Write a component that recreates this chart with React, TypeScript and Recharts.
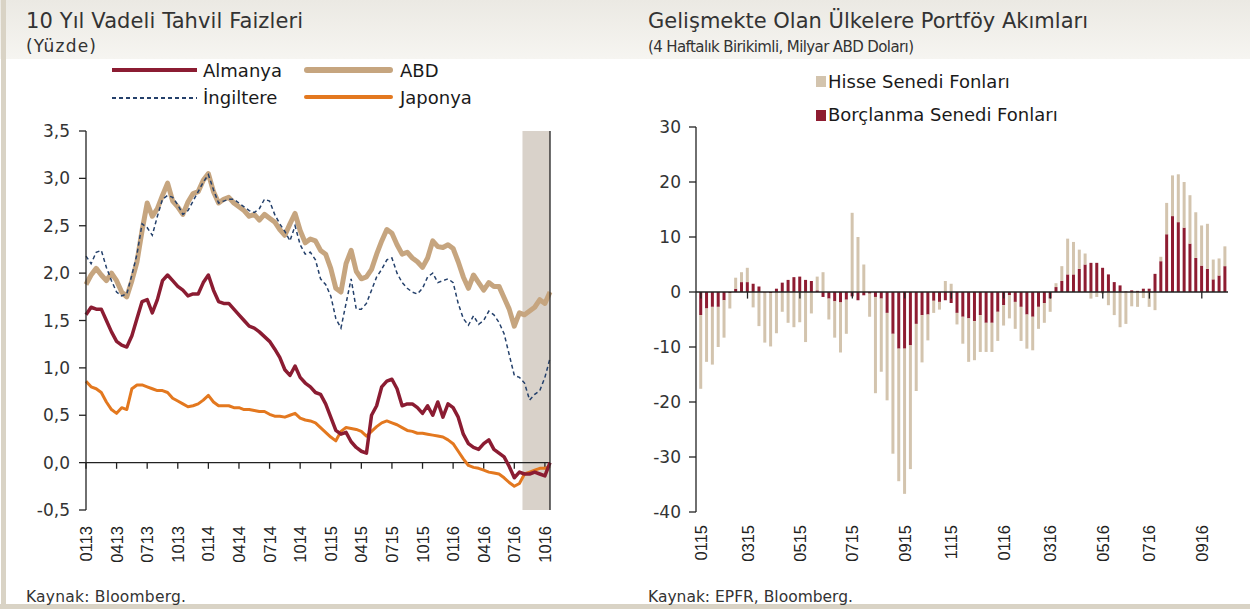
import React from 'react';
import { LineChart, Line, XAxis, YAxis, ReferenceLine, ReferenceArea, BarChart, Bar } from 'recharts';

// ---------- Left chart: 10 year bond yields (semi-monthly readings, Jan 2013 - Nov 2016)
const monthTicks = [0, 3, 6, 9, 12, 15, 18, 21, 24, 27, 30, 33, 36, 39, 42, 45];
const monthTickLabels = ['0113', '0413', '0713', '1013', '0114', '0414', '0714', '1014', '0115', '0415', '0715', '1015', '0116', '0416', '0716', '1016'];
const yieldTicks = [-0.5, 0, 0.5, 1, 1.5, 2, 2.5, 3, 3.5];

const almanya = [1.56, 1.64, 1.62, 1.62, 1.50, 1.38, 1.28, 1.24, 1.22, 1.34,
  1.52, 1.70, 1.72, 1.58, 1.72, 1.92, 1.98, 1.92, 1.86, 1.82,
  1.76, 1.78, 1.78, 1.90, 1.98, 1.82, 1.70, 1.68, 1.68, 1.62,
  1.56, 1.50, 1.44, 1.42, 1.38, 1.33, 1.28, 1.20, 1.11, 0.98,
  0.92, 1.02, 0.90, 0.84, 0.80, 0.74, 0.72, 0.62, 0.48, 0.34,
  0.30, 0.32, 0.22, 0.16, 0.12, 0.10, 0.50, 0.60, 0.80, 0.86,
  0.88, 0.78, 0.60, 0.62, 0.62, 0.58, 0.52, 0.60, 0.50, 0.64,
  0.48, 0.62, 0.58, 0.48, 0.30, 0.20, 0.16, 0.14, 0.20, 0.24,
  0.14, 0.10, 0.06, -0.04, -0.16, -0.10, -0.12, -0.12, -0.10, -0.12,
  -0.14, 0.00];
const abd = [1.88, 1.98, 2.05, 1.98, 1.92, 2.00, 1.92, 1.80, 1.75, 1.92,
  2.12, 2.45, 2.74, 2.60, 2.68, 2.82, 2.95, 2.76, 2.70, 2.62,
  2.75, 2.84, 2.86, 2.98, 3.05, 2.86, 2.74, 2.78, 2.80, 2.74,
  2.70, 2.66, 2.60, 2.62, 2.56, 2.62, 2.58, 2.54, 2.46, 2.40,
  2.52, 2.63, 2.45, 2.32, 2.36, 2.34, 2.24, 2.20, 2.05, 1.84,
  1.80, 2.10, 2.24, 2.02, 1.94, 1.96, 2.04, 2.20, 2.34, 2.46,
  2.42, 2.30, 2.20, 2.22, 2.16, 2.12, 2.06, 2.16, 2.34, 2.28,
  2.27, 2.30, 2.26, 2.12, 1.96, 1.84, 1.98, 1.90, 1.82, 1.90,
  1.86, 1.86, 1.74, 1.62, 1.44, 1.58, 1.56, 1.60, 1.64, 1.72,
  1.68, 1.80];
const ingiltere = [2.18, 2.10, 2.22, 2.24, 2.06, 1.92, 1.80, 1.76, 1.78, 1.98,
  2.20, 2.52, 2.48, 2.40, 2.60, 2.78, 2.82, 2.80, 2.72, 2.62,
  2.66, 2.76, 2.86, 2.96, 3.04, 2.88, 2.74, 2.76, 2.78, 2.78,
  2.74, 2.70, 2.66, 2.64, 2.68, 2.78, 2.76, 2.62, 2.52, 2.44,
  2.34, 2.50, 2.30, 2.20, 2.22, 2.14, 1.94, 1.88, 1.76, 1.52,
  1.42, 1.68, 1.94, 1.62, 1.62, 1.68, 1.82, 1.96, 2.04, 2.14,
  2.16, 2.00, 1.90, 1.84, 1.80, 1.78, 1.84, 1.96, 2.00, 1.90,
  1.92, 1.94, 1.90, 1.68, 1.52, 1.45, 1.55, 1.46, 1.50, 1.60,
  1.56, 1.48, 1.36, 1.14, 0.92, 0.90, 0.84, 0.66, 0.72, 0.76,
  0.90, 1.10];
const japonya = [0.86, 0.80, 0.78, 0.74, 0.64, 0.56, 0.52, 0.58, 0.56, 0.78,
  0.82, 0.82, 0.80, 0.78, 0.76, 0.76, 0.74, 0.68, 0.65, 0.62,
  0.59, 0.60, 0.62, 0.66, 0.71, 0.64, 0.60, 0.60, 0.60, 0.58,
  0.58, 0.56, 0.56, 0.55, 0.54, 0.54, 0.51, 0.49, 0.49, 0.48,
  0.50, 0.52, 0.47, 0.45, 0.44, 0.42, 0.37, 0.32, 0.27, 0.23,
  0.33, 0.37, 0.36, 0.35, 0.33, 0.28, 0.33, 0.38, 0.42, 0.44,
  0.42, 0.40, 0.37, 0.34, 0.33, 0.31, 0.31, 0.30, 0.29, 0.28,
  0.27, 0.24, 0.20, 0.12, 0.04, -0.03, -0.05, -0.06, -0.08, -0.10,
  -0.11, -0.12, -0.16, -0.21, -0.25, -0.22, -0.12, -0.10, -0.08, -0.06,
  -0.06, -0.04];
const shadeStart = 42.8;
const shadeEnd = 45.5;

const lineData = almanya.map((v, i) => ({
  m: i * 0.5,
  almanya: v,
  abd: abd[i],
  ingiltere: ingiltere[i],
  japonya: japonya[i],
}));

// ---------- Right chart: EM portfolio flows (weekly, Jan 2015 - Sep 2016)
const borclanma = [-4.2, -3.0, -2.7, -2.7, -1.5, -0.2, 0.6, 1.8, 1.8, 1.5,
  1.0, -0.1, -0.2, 0.6, 1.7, 2.2, 2.7, 2.8, 2.2, 2.0,
  0.3, -0.9, -1.2, -1.7, -1.9, -1.4, -0.8, -1.5, -0.6, -0.3,
  -0.9, -1.2, -3.8, -7.6, -10.3, -10.3, -9.7, -5.8, -4.2, -4.1,
  -1.6, -1.8, -1.5, -2.0, -3.8, -4.5, -4.8, -5.3, -4.2, -5.6,
  -5.6, -3.6, -2.4, -0.6, -1.8, -2.7, -4.1, -4.5, -2.7, -2.0,
  -1.2, 0.9, 2.0, 3.2, 3.2, 4.2, 5.0, 5.3, 5.3, 4.4,
  3.2, 1.8, 1.2, 0.1, 0.3, 0.2, 0.6, 0.6, 3.3, 5.6,
  10.5, 13.8, 12.7, 11.7, 8.8, 6.2, 4.8, 4.2, 2.3, 3.0,
  4.7];
const hisse = [-13.4, -9.7, -10.5, -7.3, -6.8, -2.8, 2.0, 1.8, 2.6, -2.8,
  -6.2, -9.1, -9.7, -7.5, -3.6, -5.6, -6.4, -5.5, -9.1, -3.9,
  2.5, 3.6, -3.8, -6.6, -9.1, -6.2, 14.4, 10.0, 5.0, -4.2,
  -17.5, -13.3, -15.9, -21.8, -24.1, -26.4, -22.5, -12.2, -8.6, -4.7,
  -2.2, -1.4, 2.0, 1.5, -2.1, -4.9, -7.9, -7.1, -6.7, -5.3,
  -5.3, -5.3, -3.7, -4.2, -4.9, -6.2, -6.2, -6.1, -4.0, -3.6,
  -2.4, 0.7, 2.7, 6.5, 5.9, 3.5, 2.0, -1.2, -0.9, -0.3,
  -2.4, -4.2, -6.4, -5.8, -2.6, -2.7, -1.1, -2.7, -3.3, 0.8,
  5.7, 7.4, 8.7, 8.3, 8.8, 8.3, 7.3, 8.2, 3.6, 3.1,
  3.6];
const weekTickIdx = [0, 8, 17, 26, 35, 43, 52, 60, 69, 77, 86];
const weekTickLabels = ['0115', '0315', '0515', '0715', '0915', '1115', '0116', '0316', '0516', '0716', '0916'];
const flowTicks = [-40, -30, -20, -10, 0, 10, 20, 30];

const barData = borclanma.map((v, i) => ({ w: i, borc: v, hisse: hisse[i] }));

// ---------- styles
const FONT = '"DejaVu Sans", Verdana, sans-serif';
const TFONT = '"Liberation Sans", Arial, sans-serif';
const C_ALM = '#8b1c32';
const C_ABD = '#c6a57f';
const C_ING = '#24406b';
const C_JAP = '#e3781f';
const C_SHADE = '#d9d2ca';
const C_HIS = '#d3c4ae';
const C_BOR = '#8e1c31';
const AXIS = '#222222';

const fmtComma = (v: number) => v.toFixed(1).replace('.', ',');

const RotTick = (props: any) => {
  const { x, y, payload, labels, ticks, dy } = props;
  const idx = ticks.indexOf(payload.value);
  const label = idx >= 0 ? labels[idx] : '';
  return (
    <text
      transform={`translate(${x},${y + dy}) rotate(-90)`}
      textAnchor="end"
      dominantBaseline="central"
      fontFamily={TFONT}
      fontSize={16.5}
      fill="#222"
    >
      {label}
    </text>
  );
};

const yTick = { fontFamily: FONT, fontSize: 17, fill: '#333' };

export default function App() {
  return (
    <div style={{ position: 'absolute', left: 0, top: 0, width: 1250, height: 609, background: '#fff', overflow: 'hidden' }}>
      <svg width={1250} height={609} style={{ position: 'absolute', left: 0, top: 0 }}>
        <defs>
          <linearGradient id="hdr" x1="0" y1="0" x2="0" y2="1">
            <stop offset="0" stopColor="#ebe9e3" />
            <stop offset="1" stopColor="#f6f5f1" />
          </linearGradient>
        </defs>
        <rect x={0} y={0} width={1250} height={59} fill="url(#hdr)" />
        <rect x={1} y={0} width={5} height={609} fill="#d9d3c5" />
        <rect x={0} y={604} width={1250} height={5} fill="#d9d3c5" />
        {/* titles */}
        <text x={26} y={28} fontFamily={FONT} fontSize={21} fill="#333" textLength={277}>10 Yıl Vadeli Tahvil Faizleri</text>
        <text x={26} y={52} fontFamily={FONT} fontSize={17} fill="#333" textLength={70}>(Yüzde)</text>
        <text x={648} y={28} fontFamily={FONT} fontSize={21} fill="#333" textLength={440}>Gelişmekte Olan Ülkelere Portföy Akımları</text>
        <text x={648} y={52} fontFamily={FONT} fontSize={15} fill="#333" textLength={266}>(4 Haftalık Birikimli, Milyar ABD Doları)</text>
        {/* sources */}
        <text x={26} y={602} fontFamily={FONT} fontSize={15.5} fill="#333" textLength={160}>Kaynak: Bloomberg.</text>
        <text x={648} y={602} fontFamily={FONT} fontSize={15.5} fill="#333" textLength={205}>Kaynak: EPFR, Bloomberg.</text>
        {/* left legend */}
        <line x1={112} x2={197} y1={70} y2={70} stroke={C_ALM} strokeWidth={4} />
        <text x={203} y={77} fontFamily={FONT} fontSize={18} fill="#1a1a1a">Almanya</text>
        <line x1={307} x2={390} y1={70} y2={70} stroke={C_ABD} strokeWidth={6} strokeLinecap="round" />
        <text x={400} y={77} fontFamily={FONT} fontSize={18} fill="#1a1a1a">ABD</text>
        <line x1={112} x2={197} y1={98} y2={98} stroke={C_ING} strokeWidth={1.8} strokeDasharray="4 3" />
        <text x={203} y={104} fontFamily={FONT} fontSize={18} fill="#1a1a1a">İngiltere</text>
        <line x1={306} x2={391} y1={97} y2={97} stroke={C_JAP} strokeWidth={4} strokeLinecap="round" />
        <text x={400} y={104} fontFamily={FONT} fontSize={18} fill="#1a1a1a">Japonya</text>
        {/* right legend */}
        <rect x={816} y={76} width={10} height={11} fill={C_HIS} />
        <text x={828} y={88} fontFamily={FONT} fontSize={18} fill="#1a1a1a">Hisse Senedi Fonları</text>
        <rect x={816} y={110} width={10} height={11} fill={C_BOR} />
        <text x={828} y={121} fontFamily={FONT} fontSize={18} fill="#1a1a1a">Borçlanma Senedi Fonları</text>
      </svg>

      <div style={{ position: 'absolute', left: 0, top: 0 }}>
        <LineChart width={600} height={609} data={lineData} margin={{ top: 131, right: 0, bottom: 0, left: 0 }}>
          <XAxis
            dataKey="m"
            type="number"
            domain={[0, 45.5]}
            ticks={monthTicks}
            interval={0}
            axisLine={false}
            tickLine={false}
            tickSize={0}
            tickMargin={0}
            height={99}
            tick={(p: any) => <RotTick {...p} labels={monthTickLabels} ticks={monthTicks} dy={16} />}
          />
          <YAxis
            yAxisId="left"
            domain={[-0.5, 3.5]}
            ticks={yieldTicks}
            interval={0}
            width={86}
            tickFormatter={fmtComma}
            tick={yTick}
            tickSize={7}
            tickMargin={9}
            axisLine={{ stroke: AXIS, strokeWidth: 1.3 }}
            tickLine={{ stroke: AXIS, strokeWidth: 1.3 }}
          />
          <YAxis
            yAxisId="right"
            orientation="right"
            domain={[-0.5, 3.5]}
            ticks={yieldTicks}
            interval={0}
            width={50}
            tickFormatter={fmtComma}
            tick={yTick}
            tickSize={7}
            tickMargin={8}
            axisLine={{ stroke: AXIS, strokeWidth: 1.3 }}
            tickLine={{ stroke: AXIS, strokeWidth: 1.3 }}
          />
          <ReferenceArea yAxisId="left" x1={shadeStart} x2={shadeEnd} y1={-0.5} y2={3.5} fill={C_SHADE} fillOpacity={1} stroke="none" />
          <ReferenceLine yAxisId="left" y={0} stroke={AXIS} strokeWidth={1.3} />
          {monthTicks.map((t) => (
            <ReferenceLine key={t} yAxisId="left" segment={[{ x: t, y: 0 }, { x: t, y: -0.065 }]} stroke={AXIS} strokeWidth={1.3} />
          ))}
          <Line yAxisId="left" dataKey="abd" stroke={C_ABD} strokeWidth={5} dot={false} isAnimationActive={false} strokeLinejoin="round" />
          <Line yAxisId="left" dataKey="ingiltere" stroke={C_ING} strokeWidth={1.5} strokeDasharray="4 3" dot={false} isAnimationActive={false} />
          <Line yAxisId="left" dataKey="japonya" stroke={C_JAP} strokeWidth={3} dot={false} isAnimationActive={false} strokeLinejoin="round" />
          <Line yAxisId="left" dataKey="almanya" stroke={C_ALM} strokeWidth={3.5} dot={false} isAnimationActive={false} strokeLinejoin="round" />
        </LineChart>
      </div>

      <div style={{ position: 'absolute', left: 620, top: 0 }}>
        <BarChart width={630} height={609} data={barData} stackOffset="sign" barCategoryGap="21%" margin={{ top: 127, right: 22, bottom: 0, left: 0 }}>
          <XAxis
            dataKey="w"
            type="category"
            ticks={weekTickIdx}
            interval={0}
            padding={{ left: 2, right: 0 }}
            axisLine={false}
            tickLine={false}
            tickSize={0}
            tickMargin={0}
            height={97}
            tick={(p: any) => <RotTick {...p} labels={weekTickLabels} ticks={weekTickIdx} dy={13} />}
          />
          <YAxis
            domain={[-40, 30]}
            ticks={flowTicks}
            interval={0}
            width={76}
            tick={yTick}
            tickSize={7}
            tickMargin={8}
            axisLine={{ stroke: AXIS, strokeWidth: 1.3 }}
            tickLine={{ stroke: AXIS, strokeWidth: 1.3 }}
          />
          <Bar dataKey="borc" stackId="a" fill={C_BOR} isAnimationActive={false} />
          <Bar dataKey="hisse" stackId="a" fill={C_HIS} isAnimationActive={false} />
          <ReferenceLine y={0} stroke={AXIS} strokeWidth={1.5} />
          {weekTickIdx.map((t) => (
            <ReferenceLine key={t} segment={[{ x: t, y: 0 }, { x: t, y: -1.2 }]} stroke={AXIS} strokeWidth={1.3} />
          ))}
        </BarChart>
      </div>
    </div>
  );
}
